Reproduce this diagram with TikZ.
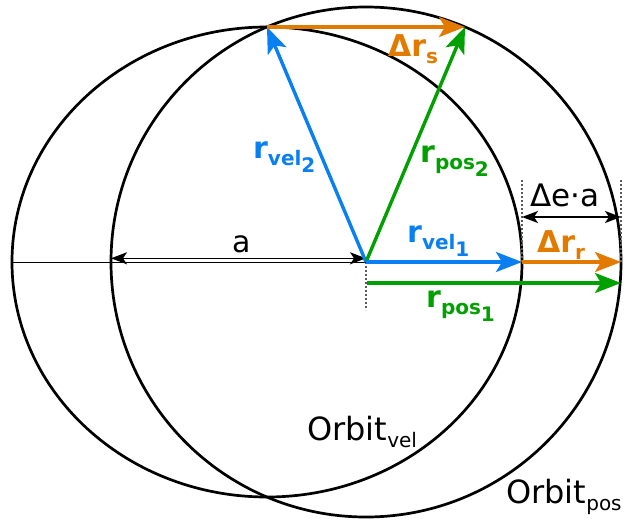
\documentclass[tikz,border=0pt]{standalone}
\usepackage{fontspec}
\setmainfont{DejaVu Sans}
\usetikzlibrary{arrows.meta}
\definecolor{velBlue}{HTML}{0A7FF2}
\definecolor{posGreen}{HTML}{00A000}
\definecolor{dOrange}{HTML}{E27A00}
\definecolor{guideGrey}{HTML}{5A5A5A}
\newcommand{\lowsub}[1]{\raisebox{-7pt}{\fontsize{20}{20}\selectfont #1}}

\begin{document}
\begin{tikzpicture}[
  x=1pt, y=-1pt,
  every node/.style={inner sep=0pt, anchor=base west},
  lbl/.style={font=\fontsize{30}{36}\selectfont},
  orbitlbl/.style={font=\fontsize{32}{38}\selectfont},
  orbit/.style={line width=2.7pt, draw=black},
  vec/.style={line width=3.4pt, -{Stealth[length=26pt,width=20pt,inset=6pt]}},
  dim/.style={line width=1.5pt, draw=black,
              {Stealth[length=16pt,width=12pt,inset=4pt]}-{Stealth[length=16pt,width=12pt,inset=4pt]}},
  axis/.style={line width=1.4pt, draw=black},
  guide/.style={line width=1.2pt, draw=guideGrey, dash pattern=on 2pt off 2pt},
]
\useasboundingbox (0,0) rectangle (628,524);

% ---------------- POINTS (absolute grid) ----------------
\coordinate (F) at (366,262);
\coordinate (velC) at (267,262);
\coordinate (velL) at (12,262.5);
\coordinate (axR) at (366,262.5);
\coordinate (velR) at (522,262);
\coordinate (posR) at (621,262);
\coordinate (velTop) at (267,27);
\coordinate (posTop) at (465,27);
\coordinate (aL) at (111,258.3);
\coordinate (aR) at (366,258.3);
\coordinate (eL) at (522,217);
\coordinate (eR) at (621,217);
\coordinate (lowL) at (367,283);
\coordinate (lowR) at (621,283);
\coordinate (gF) at (366,310);
\coordinate (gVtop) at (522,180);
\coordinate (gPtop) at (621,180);

% ---------------- ORBITS ----------------
\draw[orbit] (velC) ellipse [x radius=255, y radius=235];
\draw[orbit] (F) circle [radius=255];

% ---------------- GUIDES ----------------
\draw[guide] (F) -- (gF);
\draw[guide] (gVtop) -- (velR);
\draw[guide] (gPtop) -- (posR);
\draw[axis] (velL) -- (axR);
\draw[dim] (aL) -- (aR);
\draw[dim] (eL) -- (eR);

% ---------------- VECTORS ----------------
\draw[vec, draw=velBlue] (F) -- (velTop);
\draw[vec, draw=posGreen] (F) -- (posTop);
\draw[vec, draw=dOrange] (velTop) -- (posTop);
\draw[vec, draw=velBlue] (F) -- (velR);
\draw[vec, draw=dOrange] (velR) -- (posR);
\draw[vec, draw=posGreen] (lowL) -- (lowR);

% ---------------- LABELS ----------------
\node[lbl, text=dOrange] (drsLbl) at (388,57) {\textbf{Δr\lowsub{s}}};
\node[lbl, text=velBlue] (rvel2Lbl) at (253,158) {\textbf{r\lowsub{vel\lowsub{2}}}};
\node[lbl, text=posGreen] (rpos2Lbl) at (420,162) {\textbf{r\lowsub{pos\lowsub{2}}}};
\node[lbl, font=\fontsize{31}{36}\selectfont] (deaLbl) at (530,206) {Δe·a};
\node[lbl, text=velBlue] (rvel1Lbl) at (407,242) {\textbf{r\lowsub{vel\lowsub{1}}}};
\node[lbl, text=dOrange] (drrLbl) at (537,252) {\textbf{Δr\lowsub{r}}};
\node[lbl] (aLbl) at (232,252) {a};
\node[lbl, text=posGreen] (rpos1Lbl) at (426,307) {\textbf{r\lowsub{pos\lowsub{1}}}};
\node[orbitlbl] (velLbl) at (307,440) {Orbit\lowsub{vel}};
\node[orbitlbl] (posLbl) at (506,503) {Orbit\lowsub{pos}};
\end{tikzpicture}
\end{document}
